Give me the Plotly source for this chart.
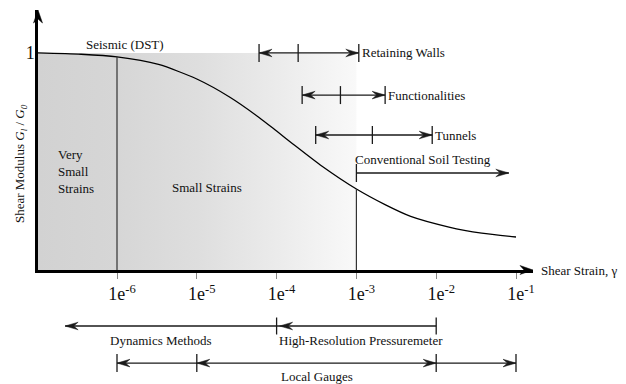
import plotly.graph_objects as go

# ---- axis extents (x in decades of shear strain, y = G/G0) ----
X_MIN, X_MAX = -6.99, -0.787
Y_MAX = 1.198
PLOT_W, PLOT_H = 495, 260
M_L, M_R, M_T, M_B = 38, 93, 10, 114

decades = [-6, -5, -4, -3, -2, -1]
decade_labels = [f"1e<sup>{d}</sup>" for d in decades]

# degradation curve G/G0 against log10(strain)
curve_logstrain = [-6.99, -6.45, -6.0, -5.48, -5.0, -4.58, -4.22, -4.0,
                   -3.8, -3.43, -3.0, -2.635, -2.32, -1.84, -1.43, -1.0]
curve_modulus = [1.0, 0.994, 0.982, 0.947, 0.880, 0.795, 0.703, 0.640,
                 0.582, 0.478, 0.373, 0.30, 0.247, 0.198, 0.170, 0.152]

very_small_limit = -6.0
small_limit = -3.0

# typical strain ranges of geotechnical structures
app_names = ["Retaining Walls", "Functionalities", "Tunnels"]
app_lo = [-4.22, -3.68, -3.51]
app_mid = [-3.73, -3.2, -2.8]
app_hi = [-2.97, -2.64, -2.05]
app_level = [1.0, 0.806, 0.622]

conv_from, conv_to, conv_level = -3.0, -1.09, 0.447

# measurement methods (below the strain axis, paper y)
dyn_from, dyn_to = -4.0, -6.65
hrp_from, hrp_to = -2.0, -4.0
gauge_ticks = [-6, -5, -2, -1]
row1_y, row2_y = -0.2154, -0.358
row1_label_y, row2_label_y = -0.273, -0.4115

FONT = "Liberation Serif"
INK = "#1a1a1a"

px_per_dec = PLOT_W / (X_MAX - X_MIN)
px_per_y = PLOT_H / Y_MAX
px_per_paper = PLOT_H


def head(tip, y, direction, yscale, xref="x", yref="y", L=13, W=3.8, N=8.5):
    """Barbed arrowhead as a filled path; sizes given in pixels."""
    xs = px_per_dec if xref == "x" else PLOT_W
    l, n = direction * L / xs, direction * N / xs
    w = W / yscale
    path = (f"M {tip},{y} L {tip - l},{y + w} L {tip - n},{y} "
            f"L {tip - l},{y - w} Z")
    return dict(type="path", path=path, xref=xref, yref=yref,
                fillcolor=INK, line=dict(color=INK, width=0.5))


def seg(x0, x1, y, yref="y", w=1.3):
    return dict(type="line", x0=x0, x1=x1, y0=y, y1=y, xref="x", yref=yref,
                line=dict(color=INK, width=w))


def bar(x, y, half_px, yscale, yref="y", w=1.3, color=INK):
    h = half_px / yscale
    return dict(type="line", x0=x, x1=x, y0=y - h, y1=y + h, xref="x",
                yref=yref, line=dict(color=color, width=w))


fig = go.Figure()

# shaded small-strain zone fading out towards 1e-3
fig.add_trace(go.Scatter(
    x=[X_MIN, small_limit, small_limit, X_MIN],
    y=[0, 0, 1, 1], mode="lines", fill="toself", line=dict(width=0),
    fillgradient=dict(type="horizontal", start=X_MIN, stop=small_limit,
                      colorscale=[[0, "#d2d2d2"], [0.25, "#d6d6d6"],
                                  [0.5, "#dedede"], [0.75, "#ebebeb"],
                                  [1, "#f9f9f9"]]),
    hoverinfo="skip", showlegend=False))

fig.add_trace(go.Scatter(
    x=curve_logstrain, y=curve_modulus, mode="lines",
    line=dict(color="black", width=1.3, shape="spline", smoothing=0.7),
    showlegend=False))

shapes = []
# zone boundaries
for xb in (very_small_limit, small_limit):
    yb = curve_modulus[curve_logstrain.index(xb)]
    shapes.append(dict(type="line", x0=xb, x1=xb, y0=0, y1=yb, xref="x",
                       yref="y", line=dict(color="#333333", width=1.2)))

# application ranges
for lo, mid, hi, lv in zip(app_lo, app_mid, app_hi, app_level):
    shapes.append(seg(lo, hi, lv))
    for xt in (lo, mid, hi):
        shapes.append(bar(xt, lv, 9, px_per_y))
    shapes.append(head(lo, lv, -1, px_per_y))
    shapes.append(head(hi, lv, 1, px_per_y))

# conventional soil testing
shapes.append(seg(conv_from, conv_to, conv_level))
shapes.append(bar(conv_from, conv_level, 9, px_per_y))
shapes.append(head(conv_to, conv_level, 1, px_per_y))

# dynamic methods and pressuremeter row
shapes.append(seg(dyn_to, dyn_from, row1_y, "paper"))
shapes.append(head(dyn_to, row1_y, -1, px_per_paper, yref="paper"))
shapes.append(bar(dyn_from, row1_y, 8.5, px_per_paper, "paper"))
shapes.append(seg(hrp_to, hrp_from, row1_y, "paper"))
shapes.append(head(hrp_to + 3 / px_per_dec, row1_y, -1, px_per_paper,
                   yref="paper"))
shapes.append(bar(hrp_from, row1_y, 8.5, px_per_paper, "paper"))

# local gauges row
shapes.append(seg(gauge_ticks[0], gauge_ticks[-1], row2_y, "paper"))
for xt in gauge_ticks:
    shapes.append(bar(xt, row2_y, 9, px_per_paper, "paper"))
shapes.append(head(gauge_ticks[0], row2_y, -1, px_per_paper, yref="paper"))
shapes.append(head(gauge_ticks[1], row2_y, -1, px_per_paper, yref="paper"))
shapes.append(head(gauge_ticks[2], row2_y, 1, px_per_paper, yref="paper"))
shapes.append(head(gauge_ticks[3], row2_y, 1, px_per_paper, yref="paper"))

# arrowheads on the axes
shapes.append(dict(type="path", xref="paper", yref="paper",
                   path=(f"M 0,1 L {-4.5 / PLOT_W},{1 - 13 / PLOT_H} "
                         f"L 0,{1 - 9 / PLOT_H} L {4.5 / PLOT_W},{1 - 13 / PLOT_H} Z"),
                   fillcolor="black", line=dict(color="black", width=0.5)))
shapes.append(dict(type="path", xref="paper", yref="paper",
                   path=(f"M 1,0 L {1 - 13 / PLOT_W},{4.5 / PLOT_H} "
                         f"L {1 - 9 / PLOT_W},0 L {1 - 13 / PLOT_W},{-4.5 / PLOT_H} Z"),
                   fillcolor="black", line=dict(color="black", width=0.5)))


def txt():
    return dict(family=FONT, size=13, color="#111111")


ann = []
ann.append(dict(x=-5.9, y=1.04, text="Seismic (DST)", showarrow=False, font=txt()))
ann.append(dict(x=-6.77, y=0.456, text="Very<br>Small<br>Strains", xanchor="left",
                align="left", showarrow=False, font=txt()))
ann.append(dict(x=-4.87, y=0.378, text="Small Strains", showarrow=False, font=txt()))
for name, hi, lv in zip(app_names, app_hi, app_level):
    ann.append(dict(x=hi, y=lv, text=name, xanchor="left", xshift=1,
                    showarrow=False, font=txt()))
ann.append(dict(x=conv_from, y=0.507, text="Conventional Soil Testing",
                xanchor="left", xshift=-3, showarrow=False, font=txt()))
ann.append(dict(x=-5.45, y=row1_label_y, yref="paper", yanchor="middle",
                text="Dynamics Methods", showarrow=False, font=txt()))
ann.append(dict(x=-4.0, y=row1_label_y, yref="paper", yanchor="middle",
                xanchor="left", text="High-Resolution Pressuremeter",
                showarrow=False, font=txt()))
ann.append(dict(x=-3.5, y=row2_label_y, yref="paper", yanchor="middle",
                text="Local Gauges", showarrow=False, font=txt()))
ann.append(dict(x=1.012, y=0, xref="paper", yref="paper", xanchor="left",
                yanchor="middle", text="Shear Strain, γ", showarrow=False,
                font=txt()))
ann.append(dict(x=-0.034, y=0.408, xref="paper", yref="paper", textangle=-90,
                xanchor="center", yanchor="middle",
                text="Shear Modulus <i>G<sub>l</sub></i> / <i>G<sub>0</sub></i>",
                showarrow=False, font=txt()))

fig.update_layout(
    width=626, height=384,
    margin=dict(l=M_L, r=M_R, t=M_T, b=M_B, pad=0),
    paper_bgcolor="white", plot_bgcolor="white",
    shapes=shapes, annotations=ann, showlegend=False,
    xaxis=dict(range=[X_MIN, X_MAX], tickvals=decades, ticktext=decade_labels,
               showgrid=False, zeroline=False, showline=True, linecolor="black",
               linewidth=2.5, ticks="outside", ticklen=6, tickwidth=1,
               tickcolor="#888888", ticklabelshift=5,
               tickfont=dict(family=FONT, size=18, color="#111111")),
    yaxis=dict(range=[0, Y_MAX], tickvals=[1], ticktext=["1"], showgrid=False,
               zeroline=False, showline=True, linecolor="black", linewidth=2.5,
               ticks="", ticklabelstandoff=-3,
               tickfont=dict(family=FONT, size=18, color="#111111")),
)

fig.write_html("out.html")
